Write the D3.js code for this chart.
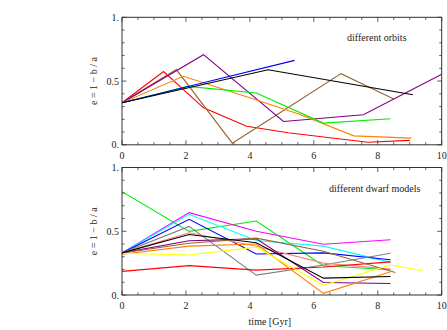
<!DOCTYPE html>
<html>
<head>
<meta charset="utf-8">
<script src="https://cdn.jsdelivr.net/npm/d3@7"></script>
<style>
  body { margin: 0; background: #fff; }
  text { font-family: "Liberation Serif", "DejaVu Serif", serif; fill: #222; }
</style>
</head>
<body>
<script>
// tick values / labels
const xTickValues = [0, 2, 4, 6, 8, 10];
const yTickValues = [0, 0.5, 1];
const yTickLabels = ["0.", "0.5", "1."];

// panel 1: different orbits  ([time, e])
const orbitRed    = [[0, 0.33], [1.3, 0.575], [2.55, 0.29], [3.9, 0.145], [5.2, 0.095], [6.5, 0.055], [7.7, 0.02], [9.0, 0.035]];
const orbitBrown  = [[0, 0.33], [1.7, 0.59], [3.45, 0.013], [5.15, 0.285], [6.85, 0.558], [8.5, 0.36]];
const orbitPurple = [[0, 0.33], [2.55, 0.707], [5.05, 0.183], [7.55, 0.236], [10.05, 0.56]];
const orbitOrange = [[0, 0.33], [1.92, 0.537], [3.85, 0.38], [5.55, 0.24], [7.25, 0.07], [9.05, 0.052]];
const orbitGreen  = [[0, 0.33], [2.05, 0.458], [4.2, 0.406], [6.3, 0.17], [8.4, 0.204]];
const orbitBlue   = [[0, 0.33], [2.7, 0.497], [5.4, 0.662]];
const orbitBlack  = [[0, 0.33], [4.57, 0.589], [9.1, 0.393]];

// panel 2: different dwarf models
const dwarfGreen   = [[0, 0.81], [2.1, 0.499], [4.2, 0.58], [6.3, 0.23], [8.4, 0.198]];
const dwarfMagenta = [[0, 0.33], [2.1, 0.646], [4.2, 0.50], [6.3, 0.398], [8.4, 0.433]];
const dwarfCyan    = [[0, 0.33], [2.1, 0.633], [4.2, 0.427], [6.3, 0.383], [8.4, 0.256]];
const dwarfBlue    = [[0, 0.33], [2.1, 0.594], [4.2, 0.322], [6.3, 0.33], [8.4, 0.277]];
const dwarfGray    = [[0, 0.33], [2.1, 0.538], [4.2, 0.156], [6.3, 0.235], [8.4, 0.327]];
const dwarfBlack   = [[0, 0.33], [2.1, 0.475], [4.2, 0.41], [6.3, 0.132], [8.4, 0.145]];
const dwarfPink    = [[0, 0.33], [2.1, 0.488], [4.2, 0.383], [6.3, 0.25], [8.4, 0.203]];
const dwarfRed     = [[0, 0.185], [2.1, 0.23], [4.2, 0.195], [6.3, 0.22], [8.4, 0.26]];
const dwarfPurple  = [[0, 0.33], [2.1, 0.425], [4.2, 0.44], [6.3, 0.098], [8.4, 0.09]];
const dwarfBrown   = [[0, 0.33], [2.1, 0.406], [4.2, 0.446], [6.3, 0.343], [8.55, 0.177]];
const dwarfOrange  = [[0, 0.32], [2.1, 0.383], [4.2, 0.40], [6.3, 0.013], [8.4, 0.182]];
const dwarfYellow  = [[0, 0.327], [2.1, 0.314], [4.2, 0.375], [6.3, 0.077], [8.4, 0.235], [9.4, 0.19]];

const orbitSeries = [
    [orbitRed, "#ff0000"], [orbitBrown, "#996633"], [orbitPurple, "#800080"],
    [orbitOrange, "#ff8000"], [orbitGreen, "#00ee00"], [orbitBlue, "#0000ff"],
    [orbitBlack, "#000000"]
];
const dwarfSeries = [
    [dwarfGreen, "#00ee00"], [dwarfMagenta, "#ff00ff"], [dwarfCyan, "#00ffff"],
    [dwarfBlue, "#0000ff"], [dwarfGray, "#808080"], [dwarfPink, "#ff8080"],
    [dwarfRed, "#ff0000"], [dwarfPurple, "#800080"], [dwarfBrown, "#996633"],
    [dwarfOrange, "#ff8000"], [dwarfYellow, "#ffff00"], [dwarfBlack, "#000000"]
];

let width = 447,
    height = 330,
    left = 122,
    right = 441.7,
    panelH = 127.5;

let svg = d3.select("body")
    .append("svg")
    .attr("width", width)
    .attr("height", height);

let x = d3.scaleLinear().domain([0, 10]).range([left, right]);

function panel(top, series, label, labelX, idx) {
    let y = d3.scaleLinear().domain([0, 1]).range([top + panelH, top]);

    let clipId = "clip" + idx;
    svg.append("clipPath").attr("id", clipId)
        .append("rect")
        .attr("x", left).attr("y", top)
        .attr("width", right - left).attr("height", panelH);

    let line = d3.line()
        .x(function (d) { return x(d[0]); })
        .y(function (d) { return y(d[1]); });

    svg.append("g")
        .attr("clip-path", "url(#" + clipId + ")")
        .selectAll("path")
        .data(series)
        .enter().append("path")
        .attr("d", function (d) { return line(d[0]); })
        .attr("fill", "none")
        .attr("stroke", function (d) { return d[1]; })
        .attr("stroke-width", 1.1);

    // frame
    svg.append("rect")
        .attr("x", left).attr("y", top)
        .attr("width", right - left).attr("height", panelH)
        .attr("fill", "none")
        .attr("stroke", "#333")
        .attr("stroke-width", 1);

    // ticks on all four sides (inward)
    let ticks = svg.append("g").attr("stroke", "#333").attr("stroke-width", 0.8);
    d3.range(0, 10.01, 0.5).forEach(function (v) {
        let len = (v % 2 === 0) ? 4.5 : 2.5;
        ticks.append("line").attr("x1", x(v)).attr("x2", x(v))
            .attr("y1", top + panelH).attr("y2", top + panelH - len);
        ticks.append("line").attr("x1", x(v)).attr("x2", x(v))
            .attr("y1", top).attr("y2", top + len);
    });
    d3.range(0, 11).forEach(function (i) {
        let v = i / 10;
        let len = (i % 5 === 0) ? 4.5 : 2.5;
        ticks.append("line").attr("y1", y(v)).attr("y2", y(v))
            .attr("x1", left).attr("x2", left + len);
        ticks.append("line").attr("y1", y(v)).attr("y2", y(v))
            .attr("x1", right).attr("x2", right - len);
    });

    // tick labels
    svg.append("g").selectAll("text")
        .data(xTickValues)
        .enter().append("text")
        .attr("x", function (d) { return x(d); })
        .attr("y", top + panelH + 14)
        .attr("text-anchor", "middle")
        .attr("font-size", 10)
        .text(function (d) { return d; });

    svg.append("g").selectAll("text")
        .data(yTickValues)
        .enter().append("text")
        .attr("x", left - 3)
        .attr("y", function (d) { return y(d) + 3.5; })
        .attr("text-anchor", "end")
        .attr("font-size", 10)
        .text(function (d, i) { return yTickLabels[i]; });

    // y title
    svg.append("text")
        .attr("transform", "translate(97," + (top + panelH / 2) + ") rotate(-90)")
        .attr("text-anchor", "middle")
        .attr("font-size", 10)
        .text("e = 1 \u2212 b / a");

    // panel label
    svg.append("text")
        .attr("x", labelX)
        .attr("y", top + 24)
        .attr("font-size", 10)
        .text(label);
}

panel(17.3, orbitSeries, "different orbits", 347, 1);
panel(167.5, dwarfSeries, "different dwarf models", 329, 2);

svg.append("text")
    .attr("x", (left + right) / 2 - 12)
    .attr("y", 325)
    .attr("text-anchor", "middle")
    .attr("font-size", 10)
    .text("time [Gyr]");
</script>
</body>
</html>
